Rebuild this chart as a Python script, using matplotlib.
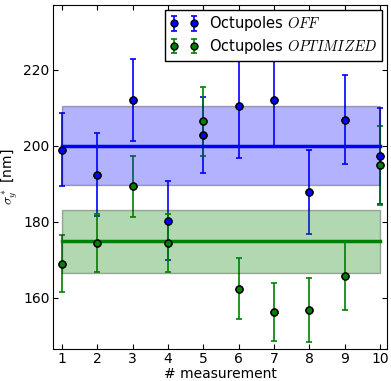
import matplotlib
matplotlib.use("Agg")
import matplotlib.pyplot as plt
import numpy as np

plt.rcParams['mathtext.fontset'] = 'cm'
plt.rcParams['font.family'] = 'DejaVu Sans'

measurement = [1, 2, 3, 4, 5, 6, 7, 8, 9, 10]
off_vals = [198.9, 192.4, 212.1, 180.3, 202.7, 210.4, 212.0, 187.8, 206.8, 197.3]
off_errs = [9.6, 11.0, 10.8, 10.4, 10.0, 13.6, 12.0, 11.0, 11.7, 12.6]
opt_vals = [168.9, 174.4, 189.3, 174.4, 206.4, 162.4, 156.2, 156.7, 165.7, 194.8]
opt_errs = [7.5, 7.7, 8.0, 7.6, 9.0, 8.0, 7.7, 8.4, 8.9, 10.3]
off_mean, off_std = 200.0, 10.4
opt_mean, opt_std = 174.8, 8.3
labels = ['Octupoles $OFF$', 'Octupoles $OPTIMIZED$']

fig = plt.figure(figsize=(3.91, 3.81), dpi=100)
ax = fig.add_axes([53/391, 32/381, (387-53)/391, (349-5)/381])

x = np.array(measurement)
h1 = ax.errorbar(x, off_vals, yerr=off_errs, fmt='o', color='b', ecolor='b',
                 mec='k', mfc='b', ms=5, capsize=2.5, elinewidth=1.2, capthick=1.2,
                 zorder=1, label=labels[0])
h2 = ax.errorbar(x, opt_vals, yerr=opt_errs, fmt='o', color='g', ecolor='g',
                 mec='k', mfc='g', ms=5, capsize=2.5, elinewidth=1.2, capthick=1.2,
                 zorder=1, label=labels[1])

xs = [measurement[0], measurement[-1]]
ax.fill_between(xs, off_mean - off_std, off_mean + off_std, facecolor='b',
                edgecolor='k', alpha=0.3, lw=1, zorder=2)
ax.fill_between(xs, opt_mean - opt_std, opt_mean + opt_std, facecolor='g',
                edgecolor='k', alpha=0.3, lw=1, zorder=2)
ax.plot(xs, [off_mean, off_mean], color='b', lw=2.5, zorder=3)
ax.plot(xs, [opt_mean, opt_mean], color='g', lw=2.5, zorder=3)

ax.plot(x, off_vals, 'o', mfc='b', mec='k', ms=5, zorder=4)
ax.plot(x, opt_vals, 'o', mfc='g', mec='k', ms=5, zorder=4)

ax.set_xlim(0.75, 10.2)
ax.set_ylim(146.5, 237)
ax.set_xticks(measurement)
ax.set_yticks([160, 180, 200, 220])
ax.tick_params(direction='in', top=True, right=True, length=3.5, labelsize=10, pad=2.5)
ax.set_xlabel('# measurement', fontsize=10, labelpad=0)
ax.set_ylabel(r'$\sigma_y^*$ [nm]', fontsize=10, labelpad=1)
ax.yaxis.set_label_coords(-0.098, 0.5)
ax.xaxis.set_label_coords(0.5, -0.052)

leg = ax.legend(handles=[h1, h2], loc='upper right', numpoints=2, fontsize=10.5,
                fancybox=False, framealpha=1, edgecolor='k',
                borderaxespad=0.35, handlelength=2.0, borderpad=0.3,
                labelspacing=0.25, handletextpad=0.7)
leg.set_zorder(10)
leg.get_frame().set_linewidth(1.0)

fig.savefig('out.png', dpi=100)
